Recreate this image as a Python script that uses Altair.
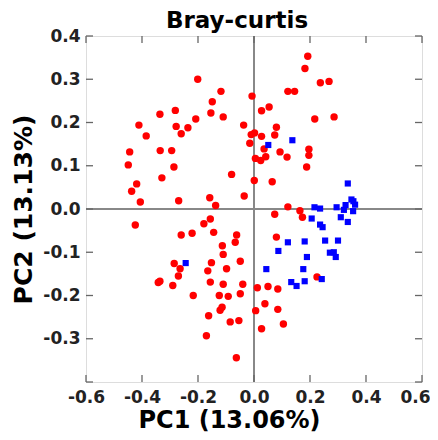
import altair as alt
import pandas as pd

red_x = [-0.201, -0.118, -0.149, -0.007, -0.336, -0.281, -0.154, -0.110, -0.208, -0.411,
         -0.278, -0.236, -0.260, -0.385, -0.037, -0.010, 0.002, -0.015, -0.444, -0.335,
         -0.294, -0.449, -0.286, 0.005, -0.080, -0.329, -0.419, -0.437, 0.001, -0.035,
         -0.406, -0.269, -0.158, -0.137,
         0.192, 0.182, 0.237, 0.268, 0.121, 0.145, 0.054, 0.027, 0.217, 0.286,
         0.080, 0.074, 0.027, 0.036, 0.093, 0.196, 0.196, 0.042, 0.024, 0.118,
         0.188, 0.065,
         0.121, 0.164, 0.173, 0.074, 0.080, 0.225, 0.012, 0.050, 0.085, 0.039,
         0.006, 0.085, 0.105, 0.027,
         -0.424, -0.156, -0.179, -0.260, -0.221, -0.144, -0.062, -0.067, -0.113, -0.110,
         -0.049, -0.152, -0.285, -0.264, -0.165, -0.098, -0.270, -0.336, -0.342, -0.156,
         -0.110, -0.040, -0.290, -0.217, -0.124, -0.092, -0.049, -0.114, -0.121, -0.162,
         -0.085, -0.054, -0.170, -0.063]
red_y = [0.300, 0.272, 0.248, 0.261, 0.219, 0.228, 0.222, 0.213, 0.208, 0.194,
         0.191, 0.188, 0.174, 0.169, 0.194, 0.172, 0.176, 0.152, 0.132, 0.135,
         0.135, 0.102, 0.097, 0.117, 0.080, 0.072, 0.058, 0.041, 0.066, 0.030,
         0.016, 0.019, 0.026, 0.008,
         0.353, 0.325, 0.292, 0.295, 0.272, 0.272, 0.236, 0.227, 0.208, 0.213,
         0.189, 0.171, 0.168, 0.139, 0.132, 0.138, 0.124, 0.121, 0.112, 0.120,
         0.097, 0.063,
         0.005, -0.004, -0.019, -0.012, -0.065, -0.157, -0.182, -0.179, -0.185, -0.219,
         -0.235, -0.232, -0.266, -0.277,
         -0.037, -0.023, -0.034, -0.060, -0.056, -0.054, -0.060, -0.077, -0.085, -0.105,
         -0.121, -0.124, -0.126, -0.138, -0.143, -0.138, -0.155, -0.167, -0.170, -0.169,
         -0.174, -0.174, -0.177, -0.200, -0.200, -0.202, -0.196, -0.227, -0.234, -0.247,
         -0.261, -0.258, -0.293, -0.344]

blue_x = [0.051, 0.137, 0.335, 0.348, 0.216, 0.236, 0.295, 0.327, 0.355, 0.361,
          0.321, 0.354, 0.310, 0.335, 0.206, 0.236, 0.245, 0.121, 0.181, 0.254,
          0.300, 0.087, 0.271, 0.285, 0.292, 0.189, 0.044, 0.176, 0.242, 0.133,
          0.152, 0.181, -0.244]
blue_y = [0.148, 0.159, 0.059, 0.022, 0.004, 0.001, 0.004, 0.009, 0.018, 0.010,
          -0.002, -0.005, -0.019, -0.030, -0.022, -0.036, -0.042, -0.077, -0.075, -0.073,
          -0.073, -0.097, -0.101, -0.100, -0.111, -0.111, -0.139, -0.139, -0.162, -0.169,
          -0.178, -0.167, -0.125]

x_ticks = [-0.6, -0.4, -0.2, 0.0, 0.2, 0.4, 0.6]
y_ticks = [-0.4, -0.3, -0.2, -0.1, 0.0, 0.1, 0.2, 0.3, 0.4]
y_labels = [-0.3, -0.2, -0.1, 0.0, 0.1, 0.2, 0.3, 0.4]
zero = [0.0]

W, H = 336, 346
FONT = "DejaVu Sans"
TL = 7

red_df = pd.DataFrame({"x": red_x, "y": red_y})
blue_df = pd.DataFrame({"x": blue_x, "y": blue_y})
xt_df = pd.DataFrame({"v": x_ticks})
yt_df = pd.DataFrame({"v": y_ticks})
z_df = pd.DataFrame({"v": zero})

xs = alt.Scale(domain=[-0.6, 0.6], nice=False, zero=False)
ys = alt.Scale(domain=[-0.4, 0.4], nice=False, zero=False)

lab_expr = "replace(format(datum.value, '.1f'), '\u2212', '-')"

xaxis = alt.Axis(values=x_ticks, labelExpr=lab_expr, grid=False, domain=False, ticks=False,
                 labelFont=FONT, labelFontWeight="bold", labelFontSize=17, labelColor="#222",
                 labelPadding=7,
                 labelOffset={"condition": {"test": "datum.value > 0.5", "value": -7},
                              "value": 0},
                 title="PC1 (13.06%)", titleFont=FONT, titleFontSize=24,
                 titleFontWeight="bold", titleColor="#000", titlePadding=3, titleX=143,
                 labelFlush=False, labelOverlap=False)
yaxis = alt.Axis(values=y_labels, labelExpr=lab_expr, grid=False, domain=False, ticks=False,
                 labelFont=FONT, labelFontWeight="bold", labelFontSize=17, labelColor="#222",
                 labelPadding=6, title="PC2 (13.13%)", titleFont=FONT, titleFontSize=25,
                 titleFontWeight="bold", titleColor="#000", titlePadding=6,
                 labelFlush=False, labelOverlap=False)

vzero = alt.Chart(z_df).mark_rule(color="#888", strokeWidth=2).encode(
    x=alt.X("v:Q", scale=xs, axis=xaxis))
hzero = alt.Chart(z_df).mark_rule(color="#888", strokeWidth=2).encode(
    y=alt.Y("v:Q", scale=ys, axis=yaxis))

tick_style = dict(color="#666", strokeWidth=1.3)
bt = alt.Chart(xt_df).mark_rule(**tick_style).encode(
    x=alt.X("v:Q", scale=xs), y=alt.value(H), y2=alt.value(H - TL))
tt = alt.Chart(xt_df).mark_rule(**tick_style).encode(
    x=alt.X("v:Q", scale=xs), y=alt.value(0), y2=alt.value(TL))
lt = alt.Chart(yt_df).mark_rule(**tick_style).encode(
    y=alt.Y("v:Q", scale=ys), x=alt.value(0), x2=alt.value(TL))
rt = alt.Chart(yt_df).mark_rule(**tick_style).encode(
    y=alt.Y("v:Q", scale=ys), x=alt.value(W), x2=alt.value(W - TL))

reds = alt.Chart(red_df).mark_point(shape="circle", filled=True, color="#ff0000",
                                    opacity=1, size=55).encode(
    x=alt.X("x:Q", scale=xs), y=alt.Y("y:Q", scale=ys))
blues = alt.Chart(blue_df).mark_point(shape="square", filled=True, color="#0000ff",
                                      opacity=1, size=38).encode(
    x=alt.X("x:Q", scale=xs), y=alt.Y("y:Q", scale=ys))

chart = alt.layer(vzero, hzero, bt, tt, lt, rt, reds, blues).properties(
    width=W, height=H,
    title=alt.TitleParams("Bray-curtis", font=FONT, fontSize=23, fontWeight="bold",
                          color="#000", anchor="middle", dx=-17, dy=7, offset=1),
    padding={"left": 78, "top": 28, "right": 8, "bottom": 50},
    autosize=alt.AutoSizeParams(type="none"),
).configure_view(stroke="#666", strokeWidth=1.5).configure(background="white")

chart.save("out.html", embed_options={"renderer": "svg", "actions": False})
